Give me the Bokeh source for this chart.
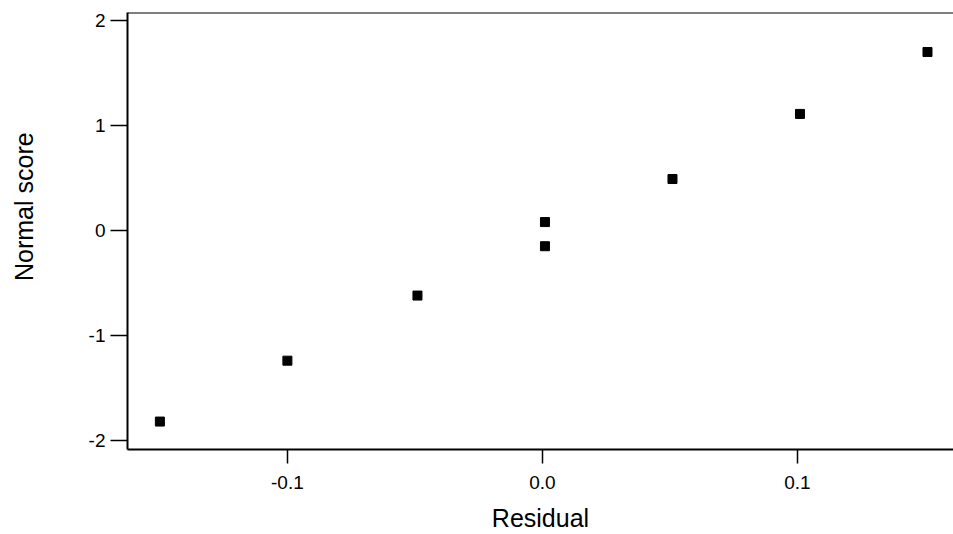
from bokeh.plotting import figure
from bokeh.models import Range1d, Span, FixedTicker
from bokeh.embed import file_html
from bokeh.resources import INLINE

residual = [-0.150, -0.100, -0.049, 0.001, 0.001, 0.051, 0.101, 0.151]
normal_score = [-1.82, -1.24, -0.62, -0.15, 0.08, 0.49, 1.11, 1.70]
x_ticks = [-0.1, 0.0, 0.1]
x_tick_labels = {-0.1: "-0.1", 0.0: "0.0", 0.1: "0.1"}
y_ticks = [-2, -1, 0, 1, 2]
y_tick_labels = {-2: "-2", -1: "-1", 0: "0", 1: "1", 2: "2"}
x_title = "Residual"
y_title = "Normal score"

FONT = "Liberation Sans"

p = figure(width=953, height=534, output_backend="svg", toolbar_location=None,
           x_range=Range1d(-0.1627, 0.1612), y_range=Range1d(-2.086, 2.076),
           min_border_left=127, min_border_top=12, min_border_bottom=85, min_border_right=0)
p.outline_line_color = None
p.xgrid.visible = False
p.ygrid.visible = False
p.background_fill_color = "white"
p.border_fill_color = "white"

p.scatter(residual, normal_score, marker="square", size=9, color="black")

top = Span(location=p.y_range.end, dimension="width", line_color="black", line_width=2)
p.add_layout(top)

for ax in (p.xaxis[0], p.yaxis[0]):
    ax.axis_line_width = 2
    ax.axis_line_color = "black"
    ax.major_tick_line_color = "black"
    ax.major_tick_line_width = 1.5
    ax.major_tick_in = 0
    ax.minor_tick_line_color = None
    ax.major_label_text_font = FONT
    ax.major_label_text_font_size = "19px"
    ax.major_label_text_color = "black"
    ax.major_label_text_line_height = 1.0
    ax.axis_label_text_font = FONT
    ax.axis_label_text_font_size = "25px"
    ax.axis_label_text_font_style = "normal"
    ax.axis_label_text_color = "black"
    ax.axis_label_text_line_height = 1.0

p.xaxis.ticker = FixedTicker(ticks=x_ticks)
p.xaxis.major_label_overrides = x_tick_labels
p.xaxis.major_tick_out = 14
p.xaxis.major_label_standoff = 12
p.xaxis.axis_label = x_title
p.xaxis.axis_label_standoff = 12

p.yaxis.ticker = FixedTicker(ticks=y_ticks)
p.yaxis.major_label_overrides = y_tick_labels
p.yaxis.major_tick_out = 17
p.yaxis.major_label_standoff = 5
# leading no-break spaces lift the centred label to where the reference has it
p.yaxis.axis_label = "\u00a0" * 7 + y_title
p.yaxis.axis_label_standoff = 48

open("out.html", "w").write(file_html(p, INLINE))
